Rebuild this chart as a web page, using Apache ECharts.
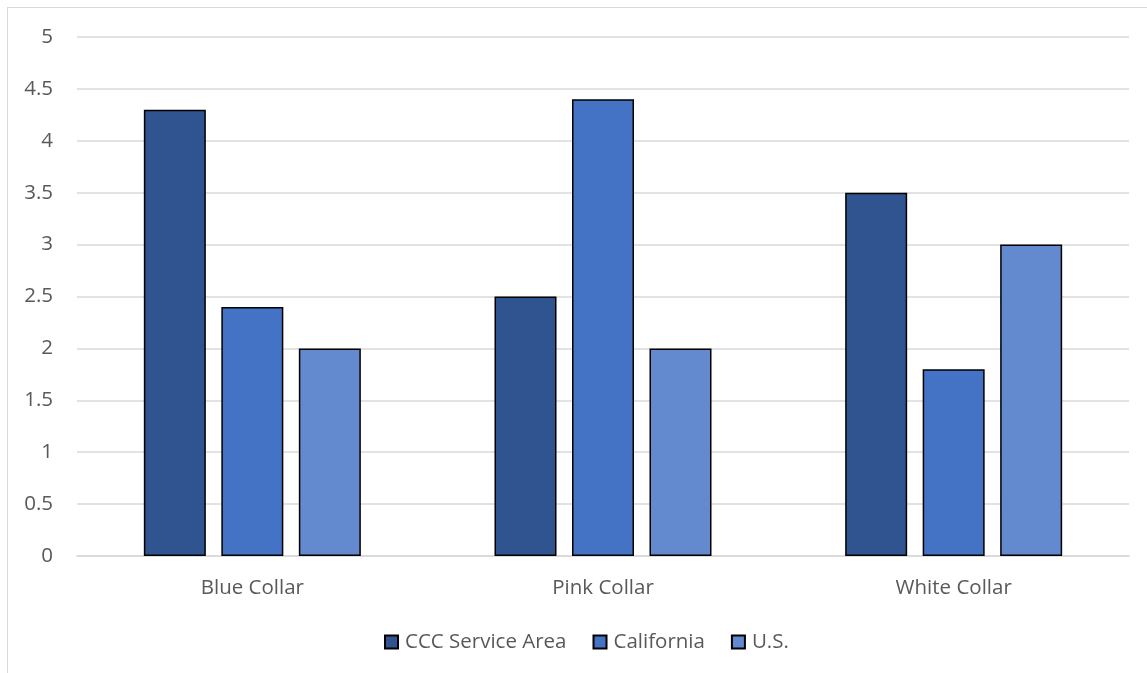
<!DOCTYPE html>
<html>
<head>
<meta charset="utf-8">
<script src="https://cdn.jsdelivr.net/npm/echarts@6/dist/echarts.min.js"></script>
<style>
  html, body { margin: 0; padding: 0; background: #fff; }
  #frame { position: absolute; left: 7px; top: 7px; width: 1300px; height: 800px; border: 1px solid #d9d9d9; box-sizing: border-box; }
  #chart { position: absolute; left: 0; top: 0; width: 1147px; height: 673px; }
</style>
</head>
<body>
<div id="frame"></div>
<div id="chart"></div>
<script>
const categories = ['Blue Collar', 'Pink Collar', 'White Collar'];
const seriesNames = ['CCC Service Area', 'California', 'U.S.'];
const cccValues = [4.3, 2.5, 3.5];
const californiaValues = [2.4, 4.4, 1.8];
const usValues = [2.0, 2.0, 3.0];
const seriesColors = ['#30548f', '#4472c4', '#6389cf'];

const FONT = '"Open Sans", "Noto Sans", sans-serif';
const TEXT = '#595959';

const values = [cccValues, californiaValues, usValues];

const chart = echarts.init(document.getElementById('chart'), null, { renderer: 'canvas' });
chart.setOption({
  animation: false,
  backgroundColor: 'transparent',
  grid: { left: 77, right: 18, top: 37, bottom: 117 },
  legend: {
    top: 626,
    left: 379,
    itemWidth: 13,
    itemHeight: 13,
    itemGap: 26,
    icon: 'rect',
    textStyle: { fontFamily: FONT, fontSize: 20.5, lineHeight: 22, color: TEXT, padding: [0, 0, 0, 2] },
    data: seriesNames
  },
  xAxis: {
    type: 'category',
    data: categories,
    axisLine: { lineStyle: { color: '#d9d9d9', width: 1.5 } },
    axisTick: { show: false },
    axisLabel: { fontFamily: FONT, fontSize: 20.5, color: TEXT, margin: 22 }
  },
  yAxis: {
    type: 'value',
    min: 0,
    max: 5,
    interval: 0.5,
    axisLine: { show: false },
    axisTick: { show: false },
    splitLine: { lineStyle: { color: '#d9d9d9', width: 1.5 } },
    axisLabel: { fontFamily: FONT, fontSize: 20.5, color: TEXT, margin: 24 }
  },
  series: seriesNames.map((name, i) => ({
    name,
    type: 'bar',
    data: values[i],
    barWidth: 62,
    barGap: '25%',
    itemStyle: { color: seriesColors[i], borderColor: '#000', borderWidth: 1.5 }
  }))
});
</script>
</body>
</html>
